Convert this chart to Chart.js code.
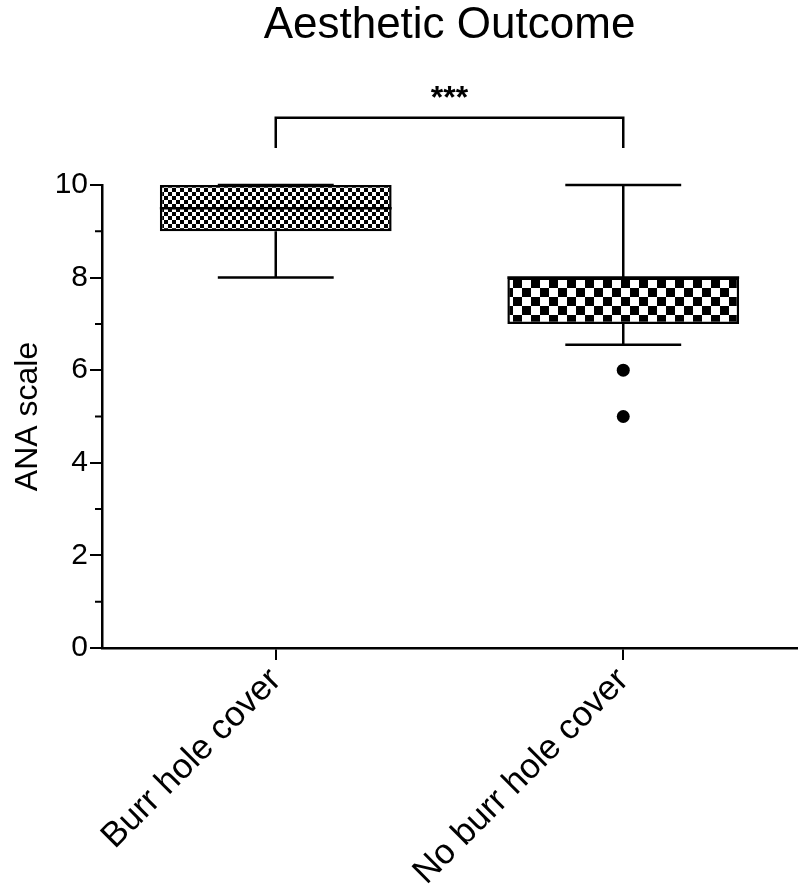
<!DOCTYPE html>
<html>
<head>
<meta charset="utf-8">
<script src="https://cdn.jsdelivr.net/npm/chart.js@4.4.1/dist/chart.umd.min.js"></script>
<style>
  html, body { margin: 0; padding: 0; background: #fff; }
  #wrap { width: 799px; height: 890px; }
</style>
</head>
<body>
<div id="wrap"><canvas id="boxChart"></canvas></div>
<script>
// box plot values
const groups = ['Burr hole cover', 'No burr hole cover'];
const q1 = [9, 7];
const q3 = [10, 8];
const medians = [9.5, 8];
const whiskerLow = [8, 6.55];
const whiskerHigh = [10, 10];
const outlierGroup = ['No burr hole cover', 'No burr hole cover'];
const outlierValues = [6, 5];
const minorTicks = [1, 3, 5, 7, 9];
const sigLabel = '***';

const FONT = '"Liberation Sans", Arial, Helvetica, sans-serif';

function checker(size) {
  const c = document.createElement('canvas');
  c.width = size * 2;
  c.height = size * 2;
  const g = c.getContext('2d');
  g.fillStyle = '#fff';
  g.fillRect(0, 0, c.width, c.height);
  g.fillStyle = '#000';
  g.fillRect(0, 0, size, size);
  g.fillRect(size, size, size, size);
  return g.createPattern(c, 'repeat');
}

const boxExtras = {
  id: 'boxExtras',
  afterDatasetsDraw(chart) {
    const { ctx, scales: { x, y }, chartArea } = chart;
    const meta = chart.getDatasetMeta(0);
    ctx.save();
    ctx.strokeStyle = '#000';
    ctx.lineWidth = 2.5;
    ctx.lineCap = 'butt';

    groups.forEach((g, i) => {
      const cx = x.getPixelForValue(i);
      const half = meta.data[i].width / 2;
      const cap = half / 2;
      ctx.beginPath();
      // upper whisker
      ctx.moveTo(cx, y.getPixelForValue(q3[i]));
      ctx.lineTo(cx, y.getPixelForValue(whiskerHigh[i]));
      ctx.moveTo(cx - cap, y.getPixelForValue(whiskerHigh[i]));
      ctx.lineTo(cx + cap, y.getPixelForValue(whiskerHigh[i]));
      // lower whisker
      ctx.moveTo(cx, y.getPixelForValue(q1[i]));
      ctx.lineTo(cx, y.getPixelForValue(whiskerLow[i]));
      ctx.moveTo(cx - cap, y.getPixelForValue(whiskerLow[i]));
      ctx.lineTo(cx + cap, y.getPixelForValue(whiskerLow[i]));
      // median
      ctx.moveTo(cx - half, y.getPixelForValue(medians[i]));
      ctx.lineTo(cx + half, y.getPixelForValue(medians[i]));
      ctx.stroke();
    });

    // minor ticks on y axis
    ctx.lineWidth = 2;
    ctx.beginPath();
    minorTicks.forEach(v => {
      const py = y.getPixelForValue(v);
      ctx.moveTo(chartArea.left - 7, py);
      ctx.lineTo(chartArea.left, py);
    });
    ctx.stroke();

    // significance bracket
    const x0 = x.getPixelForValue(0);
    const x1 = x.getPixelForValue(1);
    const top = y.getPixelForValue(11.45);
    const legEnd = y.getPixelForValue(10.8);
    ctx.lineWidth = 2.5;
    ctx.beginPath();
    ctx.moveTo(x0, legEnd);
    ctx.lineTo(x0, top);
    ctx.lineTo(x1, top);
    ctx.lineTo(x1, legEnd);
    ctx.stroke();
    ctx.fillStyle = '#000';
    ctx.font = 'bold 32px ' + FONT;
    ctx.textAlign = 'center';
    ctx.textBaseline = 'middle';
    ctx.fillText(sigLabel, (x0 + x1) / 2, y.getPixelForValue(11.85));
    ctx.restore();
  }
};

const ctx = document.getElementById('boxChart').getContext('2d');
new Chart(ctx, {
  type: 'bar',
  data: {
    labels: groups,
    datasets: [{
      label: 'IQR',
      data: groups.map((g, i) => [q1[i], q3[i]]),
      backgroundColor: [checker(4), checker(9)],
      borderColor: '#000',
      borderWidth: 2.5,
      borderSkipped: false,
      categoryPercentage: 1,
      barPercentage: 0.667
    }, {
      type: 'line',
      label: 'Outliers',
      data: outlierValues.map((v, i) => ({ x: outlierGroup[i], y: v })),
      showLine: false,
      pointRadius: 6.5,
      pointBackgroundColor: '#000',
      pointBorderColor: '#000',
      pointBorderWidth: 0
    }]
  },
  options: {
    responsive: true,
    maintainAspectRatio: false,
    animation: false,
    layout: { autoPadding: false, padding: { left: 0, right: 2, bottom: 0, top: 0 } },
    plugins: {
      legend: { display: false },
      tooltip: { enabled: false },
      title: {
        display: true,
        fullSize: false,
        text: 'Aesthetic Outcome',
        color: '#000',
        font: { family: FONT, size: 44, weight: 'normal', lineHeight: 1 },
        padding: { top: 4, bottom: 137 }
      }
    },
    scales: {
      x: {
        offset: true,
        afterFit: s => { s.height = 242; s.paddingRight = 0; s.paddingLeft = 0; },
        grid: { display: true, drawOnChartArea: false, offset: false, tickLength: 12, color: '#000', lineWidth: 2 },
        border: { display: true, color: '#000', width: 2.5 },
        ticks: {
          color: '#000',
          font: { family: FONT, size: 35 },
          minRotation: 45,
          maxRotation: 45,
          padding: 0
        }
      },
      y: {
        min: 0,
        max: 10,
        afterFit: s => { s.width = 102; },
        grid: { display: true, drawOnChartArea: false, tickLength: 12, color: '#000', lineWidth: 2 },
        border: { display: true, color: '#000', width: 2.5 },
        ticks: {
          stepSize: 2,
          color: '#000',
          font: { family: FONT, size: 30 },
          padding: 2
        },
        title: {
          display: true,
          text: 'ANA scale',
          color: '#000',
          font: { family: FONT, size: 32 },
          padding: { top: 9, bottom: 0 }
        }
      }
    }
  },
  plugins: [boxExtras]
});
</script>
</body>
</html>
